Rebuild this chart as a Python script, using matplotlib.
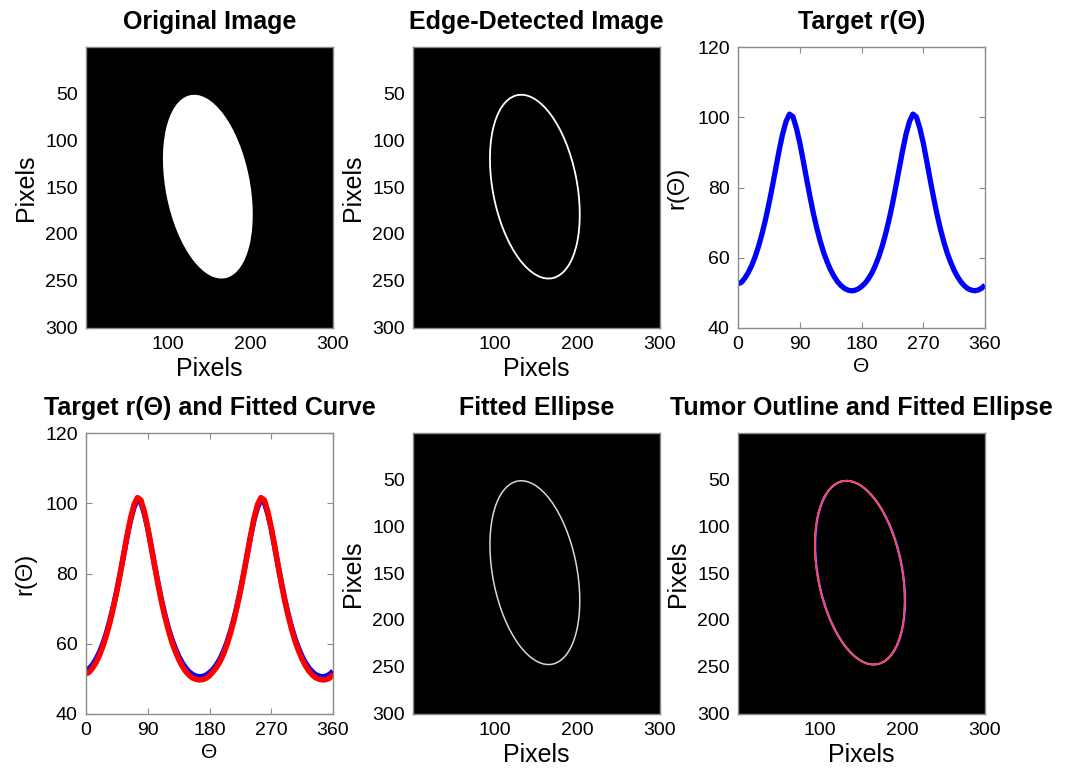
import numpy as np
import matplotlib.pyplot as plt
from matplotlib.patches import Ellipse

plt.rcParams['font.family'] = ['Liberation Sans', 'DejaVu Sans']

# ellipse (pixel coords, y down)
img_size = 300
ell_center = (148.5, 149.6)
ell_major = 100.0   # semi-axes
ell_minor = 51.0
ell_angle = 77.0    # degrees

# r(theta), every 5 degrees
theta_deg = list(range(0, 361, 5))
target_r = [52.6, 53.0, 54.2, 55.8, 57.8, 60.3, 63.3, 66.8, 70.8, 75.3,
            80.2, 85.4, 90.6, 95.2, 98.8, 100.9, 100.2, 97.0, 92.8, 87.7,
            82.4, 77.3, 72.5, 68.3, 64.6, 61.4, 58.8, 56.5, 54.7, 53.2,
            52.1, 51.3, 50.8, 50.6, 50.7, 51.1, 51.8, 52.7, 54.0, 55.6,
            57.7, 60.2, 63.2, 66.7, 70.7, 75.2, 80.2, 85.4, 90.6, 95.3,
            98.8, 100.9, 100.1, 96.9, 92.7, 87.6, 82.3, 77.2, 72.4, 68.2,
            64.5, 61.3, 58.7, 56.4, 54.6, 53.1, 52.0, 51.2, 50.8, 50.6,
            50.8, 51.3, 52.2]
fitted_r = [51.4, 52.0, 53.2, 54.8, 56.9, 59.5, 62.6, 66.2, 70.4, 75.0,
            80.1, 85.5, 90.9, 95.8, 99.6, 101.6, 100.9, 97.6, 93.0, 87.7,
            82.2, 76.9, 72.0, 67.7, 63.9, 60.6, 57.9, 55.6, 53.7, 52.2,
            51.1, 50.3, 49.9, 49.7, 49.8, 50.2, 50.9, 52.0, 53.2, 54.8,
            56.9, 59.5, 62.6, 66.2, 70.4, 75.0, 80.1, 85.5, 90.9, 95.8,
            99.6, 101.6, 100.9, 97.6, 93.0, 87.7, 82.2, 76.9, 72.0, 67.7,
            63.9, 60.6, 57.9, 55.6, 53.7, 52.2, 51.1, 50.3, 49.9, 49.7,
            49.8, 50.2, 51.4]

img_yticks = [50, 100, 150, 200, 250, 300]
img_xticks = [100, 200, 300]
r_yticks = [40, 60, 80, 100, 120]
r_xticks = [0, 90, 180, 270, 360]

W, H = 1075, 769
fig = plt.figure(figsize=(W / 100, H / 100), dpi=100)

col_left = [86, 413, 738]
row_top = [47, 433]
ax_w, ax_h = 247, 281


def make_ax(r, c):
    return fig.add_axes([col_left[c] / W, (H - row_top[r] - ax_h) / H, ax_w / W, ax_h / H])


def style_common(ax):
    for s in ax.spines.values():
        s.set_color('#8c8c8c')
        s.set_linewidth(1.0)
    ax.tick_params(direction='in', labelsize=14, length=4, pad=6)


def image_ax(ax, title):
    ax.set_facecolor('black')
    ax.set_xlim(0.5, img_size + 0.5)
    ax.set_ylim(img_size + 0.5, 0.5)
    ax.set_xticks(img_xticks)
    ax.set_yticks(img_yticks)
    style_common(ax)
    ax.tick_params(color='black')
    ax.set_xlabel('Pixels', fontsize=18, labelpad=3)
    ax.set_ylabel('Pixels', fontsize=18, labelpad=5)
    ax.set_title(title, fontsize=18, fontweight='bold', pad=13)


def curve_ax(ax, title):
    ax.set_xlim(0, 360)
    ax.set_ylim(40, 120)
    ax.set_xticks(r_xticks)
    ax.set_yticks(r_yticks)
    style_common(ax)
    ax.tick_params(color='#8c8c8c', top=True, right=True)
    ax.set_xlabel('Θ', fontsize=15, labelpad=3)
    ax.set_ylabel('r(Θ)', fontsize=17, labelpad=6)
    ax.set_title(title, fontsize=18, fontweight='bold', pad=13)


def ellipse(**kw):
    return Ellipse(ell_center, 2 * ell_major, 2 * ell_minor, angle=ell_angle, **kw)


# Original image
ax = make_ax(0, 0)
image_ax(ax, 'Original Image')
ax.add_patch(ellipse(facecolor='white', edgecolor='none'))

# Edge detected
ax = make_ax(0, 1)
image_ax(ax, 'Edge-Detected Image')
ax.add_patch(ellipse(facecolor='none', edgecolor='white', lw=1.3))

# Target r(theta)
ax = make_ax(0, 2)
curve_ax(ax, 'Target r(Θ)')
ax.plot(theta_deg, target_r, color='#0000ff', lw=3.8, solid_capstyle='butt')

# Target + fitted
ax = make_ax(1, 0)
curve_ax(ax, 'Target r(Θ) and Fitted Curve')
ax.plot(theta_deg, target_r, color='#0000ff', lw=3.8, solid_capstyle='butt')
ax.plot(theta_deg, fitted_r, color='#ff0000', lw=4.0, solid_capstyle='butt')

# Fitted ellipse
ax = make_ax(1, 1)
image_ax(ax, 'Fitted Ellipse')
ax.add_patch(ellipse(facecolor='none', edgecolor='#d8d8d8', lw=1.1))

# Overlay
ax = make_ax(1, 2)
image_ax(ax, 'Tumor Outline and Fitted Ellipse')
ax.add_patch(Ellipse((ell_center[0] + 0.8, ell_center[1]), 2 * ell_major, 2 * ell_minor,
                     angle=ell_angle, facecolor='none', edgecolor='#3030ff', lw=1.4))
ax.add_patch(ellipse(facecolor='none', edgecolor='white', lw=1.3))
ax.add_patch(ellipse(facecolor='none', edgecolor='#ff1030', lw=1.3, alpha=0.8))

fig.savefig('out.png', dpi=100)
